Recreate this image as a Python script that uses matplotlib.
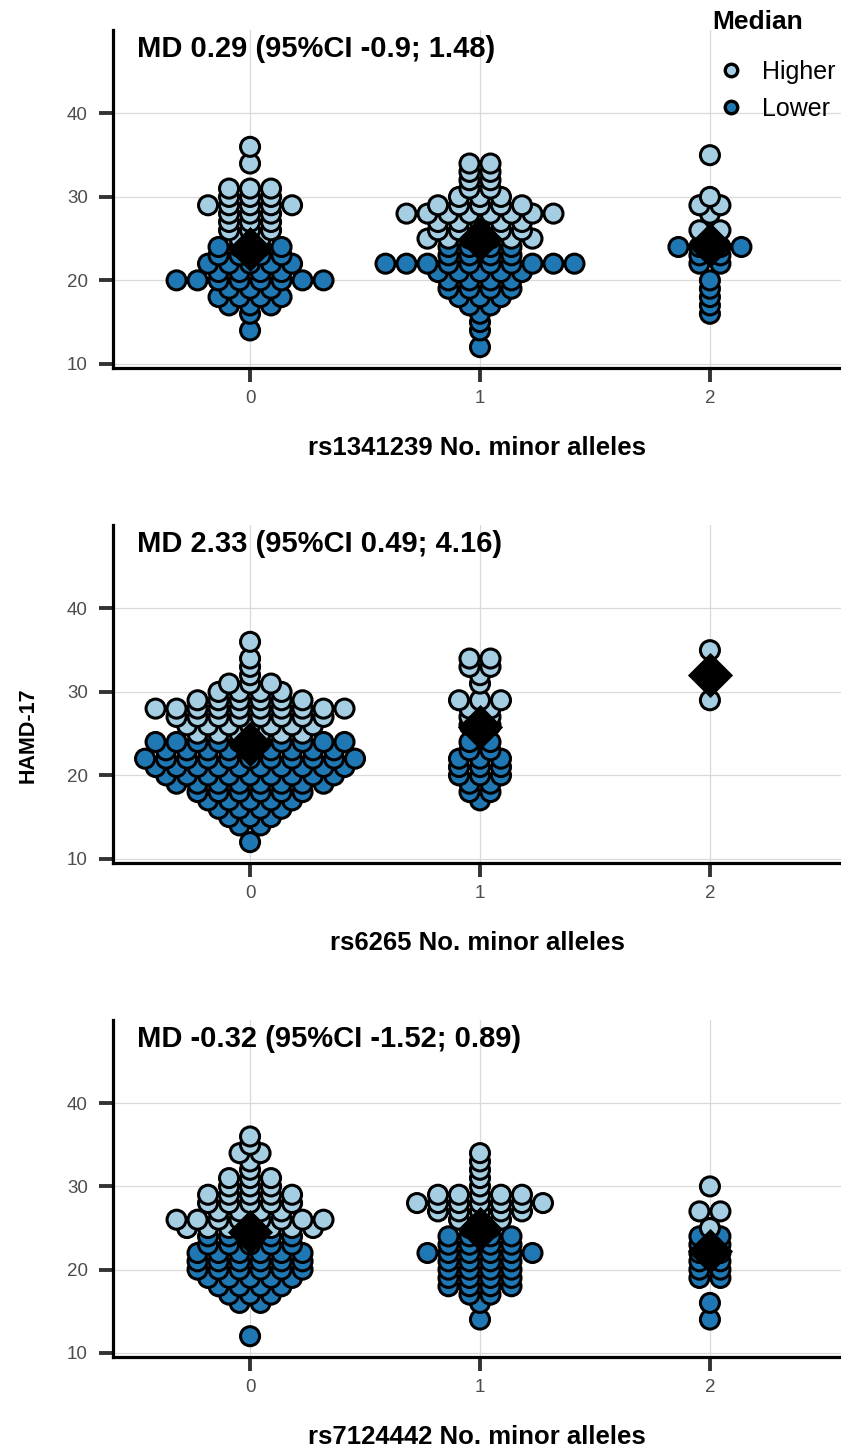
import numpy as np
import matplotlib.pyplot as plt
from matplotlib.lines import Line2D

plt.rcParams['font.family'] = ['Liberation Sans', 'DejaVu Sans']

# labels
snps = ['rs1341239', 'rs6265', 'rs7124442']
md_labels = ['MD 0.29 (95%CI -0.9; 1.48)',
             'MD 2.33 (95%CI 0.49; 4.16)',
             'MD -0.32 (95%CI -1.52; 0.89)']
alleles = [0, 1, 2]
median_cut = 24  # scores above this are "Higher"

# HAMD-17 score -> number of patients, for 0 / 1 / 2 minor alleles
rs1341239_0 = {36: 1, 34: 1, 31: 3, 30: 3, 29: 5, 28: 3, 27: 3, 26: 3, 25: 2,
               24: 4, 23: 4, 22: 5, 21: 4, 20: 8, 19: 3, 18: 4, 17: 3, 16: 1, 14: 1}
rs1341239_1 = {34: 2, 33: 2, 32: 2, 31: 2, 30: 3, 29: 5, 28: 8, 27: 5, 26: 5, 25: 6,
               24: 4, 23: 4, 22: 10, 21: 5, 20: 4, 19: 4, 18: 3, 17: 2, 16: 1, 15: 1,
               14: 1, 12: 1}
rs1341239_2 = {35: 1, 30: 1, 29: 2, 28: 1, 26: 2, 25: 1, 24: 4, 23: 2, 22: 2,
               20: 1, 19: 1, 18: 1, 17: 1, 16: 1}

rs6265_0 = {36: 1, 34: 1, 33: 1, 32: 1, 31: 3, 30: 4, 29: 6, 28: 10, 27: 8, 26: 7,
            25: 6, 24: 10, 23: 9, 22: 11, 21: 10, 20: 9, 19: 8, 18: 6, 17: 5, 16: 4,
            15: 3, 14: 2, 12: 1}
rs6265_1 = {34: 2, 33: 2, 32: 1, 31: 1, 29: 3, 28: 2, 27: 2, 26: 2, 25: 1,
            24: 2, 23: 2, 22: 3, 21: 3, 20: 3, 19: 2, 18: 2, 17: 1}
rs6265_2 = {35: 1, 29: 1}

rs7124442_0 = {36: 1, 35: 1, 34: 2, 33: 1, 32: 1, 31: 3, 30: 3, 29: 5, 28: 5, 27: 4,
               26: 8, 25: 7, 24: 5, 23: 5, 22: 6, 21: 6, 20: 6, 19: 5, 18: 4, 17: 3,
               16: 2, 12: 1}
rs7124442_1 = {34: 1, 33: 1, 32: 1, 31: 1, 30: 1, 29: 5, 28: 7, 27: 5, 26: 3, 25: 2,
               24: 4, 23: 4, 22: 6, 21: 4, 20: 4, 19: 4, 18: 4, 17: 2, 16: 1, 14: 1}
rs7124442_2 = {30: 1, 27: 2, 25: 1, 24: 2, 23: 2, 22: 2, 21: 2, 20: 2, 19: 2,
               16: 1, 14: 1}

# group means (black diamonds)
rs1341239_means = [23.7, 24.9, 24.2]
rs6265_means = [23.8, 25.8, 32.0]
rs7124442_means = [24.5, 24.9, 22.2]

panels = [
    ([rs1341239_0, rs1341239_1, rs1341239_2], rs1341239_means),
    ([rs6265_0, rs6265_1, rs6265_2], rs6265_means),
    ([rs7124442_0, rs7124442_1, rs7124442_2], rs7124442_means),
]

light = '#a6cee3'
dark = '#1f78b4'
W, H = 841, 1447
spacing = 0.0913  # horizontal distance between dots in a row (data units)

fig = plt.figure(figsize=(W / 100, H / 100), dpi=100)

# axes boxes in pixels: (top, bottom)
boxes = [(30, 368), (525, 863), (1020, 1357)]
left_px = 113

for k, ((groups, means), (top, bot)) in enumerate(zip(panels, boxes)):
    ax = fig.add_axes([left_px / W, 1 - bot / H, 1 - left_px / W, (bot - top) / H])

    xs, ys, cs = [], [], []
    for g, counts in zip(alleles, groups):
        for val in sorted(counts):
            n = counts[val]
            for i in range(n):
                xs.append(g + (i - (n - 1) / 2) * spacing)
                ys.append(val)
                cs.append(light if val > median_cut else dark)
    order = np.argsort(ys, kind='stable')
    xs = np.array(xs)[order]
    ys = np.array(ys)[order]
    cs = np.array(cs)[order]
    ax.scatter(xs, ys, s=13.7 ** 2, c=cs, edgecolors='black', linewidths=2.2, zorder=3)
    ax.scatter(alleles, means, marker='D', s=23 ** 2, c='black', edgecolors='black',
               linewidths=0, zorder=4)

    ax.set_xlim(-0.596, 2.57)
    ax.set_ylim(9.5, 50.0)
    ax.set_xticks(alleles)
    ax.set_yticks([10, 20, 30, 40])
    ax.grid(True, color='#d9d9d9', linewidth=0.9, zorder=0)
    ax.set_axisbelow(True)
    for s in ['top', 'right']:
        ax.spines[s].set_visible(False)
    for s in ['left', 'bottom']:
        ax.spines[s].set_linewidth(2.3)
        ax.spines[s].set_color('black')
    ax.tick_params(axis='both', length=10, width=2.8, color='#333333',
                   labelsize=13.5, labelcolor='#4d4d4d')
    ax.tick_params(axis='y', pad=8)
    ax.tick_params(axis='x', pad=6)

    ax.text(-0.49, 47.7, md_labels[k], fontsize=21, fontweight='bold',
            ha='left', va='center')
    ax.set_xlabel(snps[k] + ' No. minor alleles', fontsize=18.5, fontweight='bold',
                  labelpad=21)

    if k == 0:
        handles = [Line2D([], [], marker='o', linestyle='', markersize=9,
                          markerfacecolor=c, markeredgecolor='black', markeredgewidth=2.4)
                   for c in (light, dark)]
        leg = ax.legend(handles, ['Higher', 'Lower'],
                        loc='upper left', bbox_to_anchor=(706 / W, 1 - 50 / H),
                        bbox_transform=fig.transFigure, frameon=False,
                        fontsize=18, handletextpad=0.62, borderpad=0.4,
                        labelspacing=0.5, handlelength=1.2, borderaxespad=0)

fig.text(712 / W, 1 - 22 / H, 'Median', fontsize=19, fontweight='bold',
         ha='left', va='center')
fig.text(28 / W, 1 - 735 / H, 'HAMD-17', rotation=90, fontsize=15.5, fontweight='bold',
         ha='center', va='center')

fig.savefig('out.png', dpi=100)
